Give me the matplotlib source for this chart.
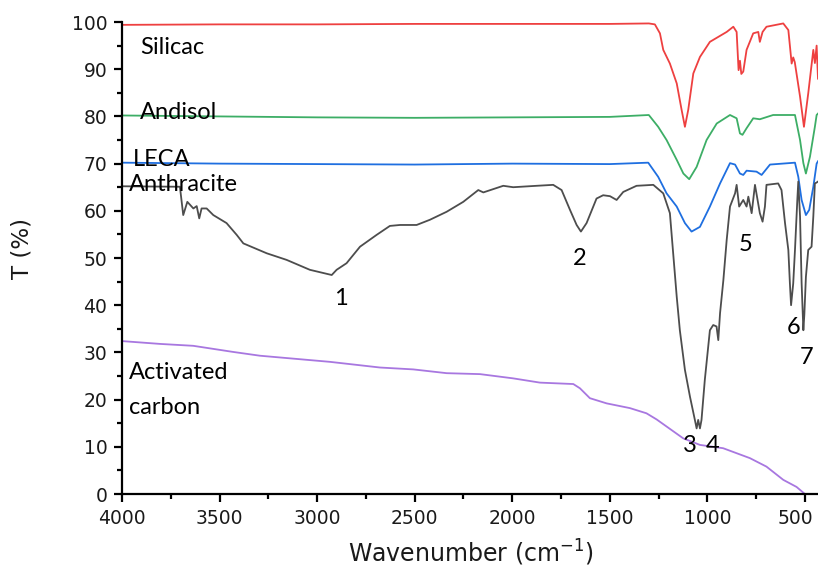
import matplotlib
matplotlib.use("Agg")
import matplotlib.pyplot as plt
from matplotlib.ticker import MultipleLocator
from matplotlib.transforms import ScaledTranslation

# ---------------- data ----------------
silicac_wn = [4000, 3500, 3000, 2500, 2000, 1500, 1300, 1269, 1243, 1226, 1192, 1157, 1132,
              1115, 1098, 1072, 1038, 987, 901, 867, 850, 840, 833, 826, 816, 799, 765,
              739, 731, 717, 697, 611, 585, 568, 560, 552, 525, 505, 483, 457, 449, 440, 433]
silicac_t = [99.4, 99.5, 99.5, 99.6, 99.6, 99.6, 99.7, 99.5, 97.6, 94.1, 91.2, 87.0, 81.4,
             77.8, 81.4, 89.1, 92.6, 95.8, 97.9, 99.0, 97.9, 89.8, 91.8, 89.0, 89.5, 94.1, 97.6,
             97.9, 95.8, 97.9, 99.0, 99.7, 98.3, 91.2, 92.5, 91.5, 84.2, 77.8, 84.9, 94.1, 91.3, 95.0, 88.0]

andisol_wn = [4000, 3500, 3000, 2500, 2000, 1500, 1300, 1252, 1209, 1157, 1123, 1093, 1055,
              1004, 952, 884, 850, 833, 820, 799, 765, 731, 663, 551, 525, 508, 495, 474,
              449, 440, 433]
andisol_t = [80.2, 80.0, 79.8, 79.7, 79.8, 79.9, 80.3, 77.8, 75.0, 70.8, 67.9, 66.7, 69.3,
             75.0, 78.5, 80.3, 79.6, 76.4, 76.1, 77.5, 79.6, 79.4, 80.3, 80.3, 75.0, 70.1, 67.9, 71.5,
             77.8, 80.3, 80.6]

leca_wn = [4000, 3500, 3000, 2500, 2000, 1500, 1303, 1252, 1209, 1157, 1115, 1081, 1038,
           987, 935, 884, 858, 833, 816, 799, 748, 722, 679, 551, 534, 517, 495, 478,
           457, 440, 433]
leca_t = [70.2, 70.0, 69.9, 69.8, 70.0, 69.9, 70.2, 67.2, 63.7, 60.9, 57.4, 55.6, 56.6,
          60.9, 65.8, 70.1, 69.8, 67.9, 67.6, 68.5, 68.3, 67.6, 69.8, 70.2, 67.2, 62.3, 59.1, 60.2,
          65.1, 70.0, 70.5]

anthracite_wn = [4000, 3703, 3686, 3665, 3634, 3617, 3604, 3592, 3566, 3532, 3464, 3412, 3378,
                 3258, 3156, 3037, 2925, 2900, 2849, 2780, 2695, 2627, 2575, 2490, 2422, 2336,
                 2251, 2174, 2148, 2046, 1995, 1875, 1790, 1747, 1704, 1670, 1648, 1619, 1568,
                 1534, 1499, 1465, 1431, 1363, 1277, 1226, 1192, 1157, 1141, 1115, 1089, 1064,
                 1055, 1047, 1038, 1030, 1013, 987, 970, 953, 944, 935, 918, 901, 884, 858,
                 850, 837, 816, 799, 790, 773, 756, 731, 717, 705, 697, 637, 620, 602, 585,
                 577, 571, 560, 551, 539, 534, 525, 517, 508, 503, 495, 483, 466, 457, 449, 440, 433]
anthracite_t = [65.2, 65.1, 59.1, 61.9, 60.5, 61.0, 58.4, 60.5, 60.5, 59.1, 57.4, 54.9, 53.1,
                51.0, 49.6, 47.5, 46.4, 47.5, 48.9, 52.4, 54.9, 56.8, 57.0, 57.0, 58.1, 59.8,
                61.9, 64.4, 63.9, 65.3, 65.0, 65.3, 65.5, 64.4, 60.2, 57.0, 55.6, 57.4, 62.6,
                63.3, 63.1, 62.3, 64.0, 65.3, 65.5, 63.7, 59.5, 41.8, 34.7, 26.3, 20.6, 15.7,
                13.9, 15.7, 13.9, 15.7, 24.2, 34.7, 35.8, 35.5, 32.6, 38.3, 45.3, 53.8, 60.9, 63.7,
                65.5, 60.9, 62.3, 60.9, 63.0, 59.5, 65.5, 59.5, 57.7, 60.9, 65.5, 65.8, 64.4, 57.4, 51.7,
                44.6, 40.0, 44.6, 51.7, 62.3, 66.2, 58.8, 44.7, 34.7, 38.0, 46.0, 51.7, 52.4, 58.8, 65.8, 66.0, 66.2]

carbon_wn = [4000, 3805, 3635, 3430, 3293, 2934, 2678, 2507, 2336, 2165, 1995, 1858, 1687,
             1653, 1602, 1516, 1397, 1312, 1260, 1209, 1124, 1038, 919, 782, 697, 611, 543, 500]
carbon_t = [32.4, 31.8, 31.4, 30.1, 29.3, 28.0, 26.8, 26.4, 25.6, 25.4, 24.5, 23.6, 23.3,
            22.4, 20.3, 19.2, 18.2, 17.1, 15.8, 14.3, 11.8, 10.4, 9.7, 7.6, 5.8, 3.0, 1.5, 0.0]

sample_names = ["Silicac", "Andisol", "LECA", "Anthracite", "Activated\ncarbon"]
peak_labels = ["1", "2", "3", "4", "5", "6", "7"]

x_ticks = [4000, 3500, 3000, 2500, 2000, 1500, 1000, 500]
y_ticks = [0, 10, 20, 30, 40, 50, 60, 70, 80, 90, 100]

# ---------------- plot ----------------
fig = plt.figure(figsize=(8.18, 5.69), dpi=100)
ax = fig.add_axes([0.1491, 0.1318, 0.8509, 0.8295])

lw = 1.3
ax.plot(silicac_wn, silicac_t, color="#EE4040", lw=lw)
ax.plot(andisol_wn, andisol_t, color="#3DAE66", lw=lw)
ax.plot(leca_wn, leca_t, color="#1F6FE0", lw=lw)
ax.plot(anthracite_wn, anthracite_t, color="#4D4D4D", lw=lw)
ax.plot(carbon_wn, carbon_t, color="#A877E0", lw=lw)

ax.set_xlim(4000, 433)
ax.set_ylim(0, 100)
ax.set_xticks(x_ticks)
ax.set_yticks(y_ticks)
ax.xaxis.set_minor_locator(MultipleLocator(250))
ax.yaxis.set_minor_locator(MultipleLocator(5))

for s in ["top", "right"]:
    ax.spines[s].set_visible(False)
for s in ["left", "bottom"]:
    ax.spines[s].set_linewidth(1.6)

ax.tick_params(axis="both", which="major", direction="out", length=6, width=1.6,
               labelsize=13.5, labelcolor="#1a1a1a", pad=4.5)
ax.tick_params(axis="both", which="minor", direction="out", length=3.5, width=1.6)
for lab in ax.get_xticklabels() + ax.get_yticklabels():
    lab.set_fontfamily("DejaVu Sans")
# keep the last x tick label ("500") inside the figure edge
last = ax.get_xticklabels()[-1]
last.set_transform(last.get_transform() + ScaledTranslation(-7 / 72, 0, fig.dpi_scale_trans))

ax.set_xlabel("Wavenumber (cm$^{-1}$)", fontsize=17, family="DejaVu Sans", color="#1a1a1a")
ax.xaxis.set_label_coords(0.5014, -0.092)
ax.set_ylabel("T (%)", fontsize=16.5, family="DejaVu Sans", color="#1a1a1a")
ax.yaxis.set_label_coords(-0.127, 0.521)

tf = dict(fontsize=17, family="Lato", color="black")
name_pos = [(3908, 94.7), (3908, 80.9), (3944, 70.8), (3964, 65.5), (3964, 25.8)]
for name, (x, y) in zip(sample_names, name_pos):
    for i, line in enumerate(name.split("\n")):
        ax.text(x, y - 7.4 * i, line, ha="left", va="center", **tf)

peak_pos = [(2878, 41.5), (1653, 50.0), (1089, 10.2), (971, 10.2), (802, 52.8), (560, 35.2), (490, 29.0)]
for lab, (x, y) in zip(peak_labels, peak_pos):
    ax.text(x, y, lab, ha="center", va="center", **tf)

fig.savefig("out.png", dpi=100)
